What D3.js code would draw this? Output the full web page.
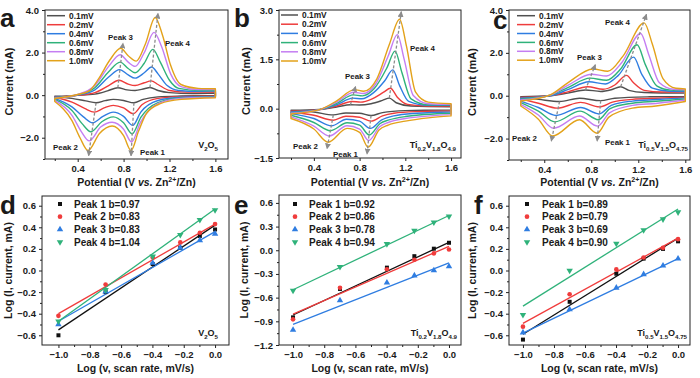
<!DOCTYPE html>
<html><head><meta charset="utf-8">
<script src="https://cdn.jsdelivr.net/npm/d3@7"></script>
<style>
body{margin:0;background:#fff}
svg{display:block}
text{font-family:"Liberation Sans",Arial,sans-serif;font-weight:bold;fill:#1a1a1a}
</style>
</head><body>
<svg id="chart" width="700" height="378"></svg>
<script>
// ---------------- DATA ----------------
const scanRates = ["0.1mV","0.2mV","0.4mV","0.6mV","0.8mV","1.0mV"];
const cvColors = ["#505050","#ee3c3c","#2f7de1","#2fb27a","#c47ef2","#e3a21a"];

// Panel a : V2O5  (potential V, current mA) — anodic (upper) and cathodic (lower) branches
const aUpper = [
 [[0.2,-0.05],[0.4,-0.01],[0.55,0.05],[0.66,0.2],[0.75,0.35],[0.83,0.25],[0.9,0.22],[0.98,0.3],[1.03,0.36],[1.1,0.22],[1.2,0.12],[1.4,0.08],[1.6,0.1]],
 [[0.2,-0.08],[0.4,-0.01],[0.55,0.12],[0.67,0.45],[0.76,0.7],[0.84,0.52],[0.9,0.45],[0.98,0.58],[1.04,0.67],[1.1,0.5],[1.2,0.22],[1.35,0.14],[1.6,0.15]],
 [[0.2,-0.1],[0.4,0.0],[0.55,0.25],[0.67,0.85],[0.765,1.2],[0.84,0.95],[0.9,0.8],[0.98,1.05],[1.045,1.32],[1.1,1.0],[1.18,0.45],[1.28,0.22],[1.45,0.18],[1.6,0.2]],
 [[0.2,-0.12],[0.4,0.02],[0.55,0.35],[0.67,1.1],[0.77,1.55],[0.84,1.25],[0.9,1.05],[0.98,1.5],[1.055,2.15],[1.12,1.55],[1.2,0.7],[1.28,0.32],[1.45,0.22],[1.6,0.22]],
 [[0.2,-0.14],[0.4,0.03],[0.55,0.45],[0.67,1.35],[0.77,1.9],[0.84,1.55],[0.9,1.35],[0.98,2.0],[1.065,2.95],[1.13,2.3],[1.21,1.0],[1.3,0.4],[1.45,0.26],[1.6,0.26]],
 [[0.2,-0.16],[0.4,0.03],[0.5,0.2],[0.58,0.75],[0.68,1.65],[0.775,2.2],[0.84,1.85],[0.91,1.6],[0.99,2.4],[1.075,3.65],[1.14,2.8],[1.21,1.4],[1.3,0.5],[1.45,0.32],[1.6,0.3]]
];
const aLower = [
 [[0.2,-0.05],[0.35,-0.15],[0.47,-0.27],[0.56,-0.36],[0.64,-0.26],[0.71,-0.2],[0.8,-0.25],[0.89,-0.36],[0.97,-0.2],[1.1,-0.08],[1.3,-0.04],[1.6,-0.02]],
 [[0.2,-0.1],[0.35,-0.33],[0.46,-0.62],[0.545,-0.8],[0.63,-0.6],[0.71,-0.48],[0.8,-0.6],[0.885,-0.87],[0.96,-0.45],[1.1,-0.15],[1.3,-0.07],[1.6,-0.04]],
 [[0.2,-0.15],[0.35,-0.55],[0.45,-1.02],[0.53,-1.3],[0.62,-1.0],[0.71,-0.8],[0.8,-1.0],[0.88,-1.42],[0.95,-0.8],[1.1,-0.25],[1.3,-0.1],[1.6,-0.06]],
 [[0.2,-0.2],[0.35,-0.72],[0.44,-1.35],[0.515,-1.72],[0.61,-1.25],[0.71,-1.02],[0.8,-1.3],[0.875,-1.82],[0.95,-1.05],[1.1,-0.35],[1.3,-0.13],[1.6,-0.08]],
 [[0.2,-0.25],[0.35,-0.95],[0.43,-1.7],[0.5,-2.15],[0.6,-1.5],[0.7,-1.27],[0.8,-1.6],[0.87,-2.2],[0.945,-1.3],[1.1,-0.4],[1.3,-0.15],[1.6,-0.1]],
 [[0.2,-0.3],[0.35,-1.2],[0.42,-2.0],[0.49,-2.6],[0.59,-1.8],[0.7,-1.45],[0.8,-1.9],[0.865,-2.6],[0.93,-1.7],[1.0,-0.85],[1.12,-0.4],[1.3,-0.2],[1.6,-0.12]]
];
const aArrows = [[[0.75,0.35],[0.795,2.45]],[[1.03,0.36],[1.1,3.85]],[[0.89,-0.36],[0.865,-2.85]],[[0.56,-0.36],[0.495,-2.85]]];

// Panel b : Ti0.2V1.8O4.9
const bUpper = [
 [[0.2,-0.05],[0.45,-0.02],[0.6,0.05],[0.72,0.12],[0.8,0.11],[0.9,0.15],[1.0,0.25],[1.06,0.32],[1.12,0.18],[1.25,0.08],[1.6,0.06]],
 [[0.2,-0.08],[0.45,-0.03],[0.6,0.08],[0.73,0.22],[0.81,0.2],[0.91,0.3],[1.01,0.5],[1.07,0.62],[1.13,0.35],[1.22,0.13],[1.4,0.08],[1.6,0.08]],
 [[0.2,-0.1],[0.45,-0.03],[0.6,0.12],[0.74,0.32],[0.82,0.3],[0.92,0.48],[1.02,0.85],[1.09,1.18],[1.15,0.7],[1.23,0.22],[1.4,0.1],[1.6,0.1]],
 [[0.2,-0.12],[0.45,-0.03],[0.6,0.16],[0.745,0.42],[0.825,0.39],[0.93,0.62],[1.04,1.25],[1.11,1.75],[1.17,1.1],[1.25,0.3],[1.4,0.12],[1.6,0.12]],
 [[0.2,-0.14],[0.45,-0.03],[0.6,0.2],[0.75,0.5],[0.83,0.46],[0.94,0.75],[1.05,1.6],[1.13,2.25],[1.19,1.5],[1.27,0.4],[1.4,0.15],[1.6,0.13]],
 [[0.2,-0.16],[0.45,-0.03],[0.6,0.24],[0.755,0.58],[0.835,0.53],[0.95,0.9],[1.06,1.95],[1.15,2.72],[1.21,1.9],[1.29,0.5],[1.4,0.2],[1.6,0.15]]
];
const bLower = [
 [[0.2,-0.05],[0.4,-0.1],[0.57,-0.19],[0.68,-0.13],[0.8,-0.14],[0.9,-0.21],[1.0,-0.12],[1.2,-0.06],[1.6,-0.04]],
 [[0.2,-0.1],[0.4,-0.2],[0.57,-0.35],[0.68,-0.23],[0.8,-0.26],[0.9,-0.38],[1.0,-0.22],[1.1,-0.14],[1.3,-0.09],[1.6,-0.07]],
 [[0.2,-0.15],[0.4,-0.3],[0.555,-0.52],[0.685,-0.32],[0.8,-0.38],[0.895,-0.6],[0.99,-0.35],[1.1,-0.22],[1.3,-0.14],[1.6,-0.1]],
 [[0.2,-0.2],[0.4,-0.42],[0.545,-0.67],[0.69,-0.43],[0.8,-0.5],[0.885,-0.8],[0.98,-0.45],[1.05,-0.35],[1.2,-0.24],[1.6,-0.14]],
 [[0.2,-0.25],[0.4,-0.53],[0.535,-0.83],[0.69,-0.52],[0.8,-0.62],[0.88,-0.97],[0.975,-0.55],[1.05,-0.42],[1.2,-0.3],[1.6,-0.18]],
 [[0.2,-0.3],[0.4,-0.62],[0.525,-1.02],[0.69,-0.6],[0.8,-0.72],[0.875,-1.17],[0.97,-0.65],[1.05,-0.5],[1.2,-0.38],[1.4,-0.28],[1.6,-0.22]]
];
const bArrows = [[[0.72,0.12],[0.765,0.68]],[[1.06,0.32],[1.165,2.95]],[[0.9,-0.21],[0.865,-1.38]],[[0.57,-0.19],[0.515,-1.22]]];

// Panel c : Ti0.5V1.5O4.75
const cUpper = [
 [[0.2,-0.05],[0.45,0.0],[0.6,0.12],[0.75,0.27],[0.88,0.2],[0.97,0.28],[1.05,0.42],[1.12,0.25],[1.25,0.15],[1.6,0.12]],
 [[0.2,-0.08],[0.45,0.0],[0.6,0.18],[0.77,0.42],[0.9,0.3],[1.0,0.5],[1.1,0.95],[1.16,0.6],[1.25,0.25],[1.4,0.17],[1.6,0.17]],
 [[0.2,-0.12],[0.45,0.0],[0.6,0.28],[0.78,0.65],[0.92,0.55],[1.03,0.95],[1.16,1.8],[1.23,1.0],[1.32,0.35],[1.45,0.22],[1.6,0.2]],
 [[0.2,-0.16],[0.45,0.02],[0.6,0.38],[0.79,0.82],[0.93,0.72],[1.05,1.25],[1.19,2.38],[1.26,1.45],[1.36,0.45],[1.48,0.26],[1.6,0.24]],
 [[0.2,-0.2],[0.45,0.03],[0.6,0.48],[0.8,1.0],[0.93,0.92],[1.06,1.55],[1.22,2.9],[1.29,1.9],[1.38,0.6],[1.5,0.3],[1.6,0.28]],
 [[0.2,-0.25],[0.45,0.04],[0.6,0.6],[0.815,1.25],[0.94,1.14],[1.07,1.85],[1.25,3.4],[1.32,2.4],[1.41,0.8],[1.52,0.35],[1.6,0.32]]
];
const cLower = [
 [[0.2,-0.08],[0.35,-0.17],[0.53,-0.27],[0.7,-0.12],[0.88,-0.23],[1.0,-0.12],[1.3,-0.05],[1.6,-0.03]],
 [[0.2,-0.15],[0.35,-0.35],[0.51,-0.58],[0.71,-0.31],[0.87,-0.52],[0.98,-0.3],[1.15,-0.17],[1.35,-0.12],[1.6,-0.07]],
 [[0.2,-0.25],[0.35,-0.55],[0.5,-0.92],[0.71,-0.55],[0.865,-0.85],[0.97,-0.45],[1.15,-0.25],[1.35,-0.18],[1.6,-0.1]],
 [[0.2,-0.32],[0.35,-0.72],[0.49,-1.22],[0.705,-0.72],[0.86,-1.12],[0.96,-0.6],[1.15,-0.35],[1.35,-0.26],[1.6,-0.15]],
 [[0.2,-0.4],[0.35,-0.9],[0.48,-1.52],[0.7,-0.95],[0.855,-1.42],[0.955,-0.8],[1.15,-0.45],[1.35,-0.36],[1.6,-0.2]],
 [[0.2,-0.48],[0.35,-1.1],[0.47,-1.88],[0.7,-1.12],[0.85,-1.75],[0.95,-1.0],[1.15,-0.58],[1.35,-0.48],[1.6,-0.27]]
];
const cArrows = [[[0.75,0.27],[0.835,1.45]],[[1.05,0.42],[1.27,3.8]],[[0.88,-0.23],[0.85,-2.12]],[[0.53,-0.27],[0.46,-2.12]]];

// Bottom panels: log(scan rate) vs log(peak current)
const logScanRate = [-1.0, -0.699, -0.398, -0.222, -0.097, 0.0];
const peakNames = ["Peak 1","Peak 2","Peak 3","Peak 4"];
const peakColors = ["#111111","#f03c3c","#2f7de1","#2fb27a"];

const dLogI = [
 [-0.60, -0.20, 0.06, 0.21, 0.32, 0.38],
 [-0.42, -0.13, 0.12, 0.26, 0.35, 0.43],
 [-0.50, -0.195, 0.07, 0.21, 0.28, 0.34],
 [-0.47, -0.18, 0.13, 0.33, 0.47, 0.56]
];
const dSlope = [0.97, 0.83, 0.83, 1.04];
const dIntercept = [0.42, 0.43, 0.36, 0.57];

const eLogI = [
 [-0.85, -0.49, -0.22, -0.075, 0.02, 0.095],
 [-0.875, -0.475, -0.24, -0.12, -0.04, 0.01],
 [-1.01, -0.635, -0.41, -0.32, -0.255, -0.205],
 [-0.51, -0.21, 0.08, 0.25, 0.355, 0.43]
];
const eSlope = [0.92, 0.86, 0.78, 0.94];
const eIntercept = [0.10, 0.05, -0.16, 0.44];

const fLogI = [
 [-0.64, -0.29, -0.03, 0.11, 0.20, 0.27],
 [-0.52, -0.22, 0.01, 0.12, 0.21, 0.29],
 [-0.575, -0.36, -0.16, -0.035, 0.045, 0.11],
 [-0.41, 0.0, 0.25, 0.375, 0.475, 0.54]
];
const fSlope = [0.89, 0.79, 0.69, 0.90];
const fIntercept = [0.30, 0.30, 0.11, 0.57];

// ---------------- DRAWING ----------------
const svg = d3.select("#chart");
const fmt = d3.format(".1f");
const defs = svg.append("defs");
defs.append("marker").attr("id","ah").attr("viewBox","0 0 10 10")
  .attr("refX",9).attr("refY",5).attr("markerWidth",6).attr("markerHeight",6)
  .attr("markerUnits","userSpaceOnUse").attr("orient","auto")
  .append("path").attr("d","M0,0 L10,5 L0,10 Z").attr("fill","#8c8c8c");

function rich(sel, parts, size){
  let shift = 0;
  parts.forEach(p => {
    const target = p.sub ? size*0.3 : (p.sup ? -size*0.4 : 0);
    const ts = sel.append("tspan").attr("dy", target - shift).text(p.t);
    shift = target;
    if (p.sub || p.sup) ts.attr("font-size", size*0.68);
    if (p.it) ts.attr("font-style","italic");
  });
}

function frameAxes(g, x, y, b, xt, xm, yt, ym, yfmt){
  const style = s => { s.attr("font-family",null).attr("font-size",null);
    s.select(".domain").remove();
    s.selectAll("line").attr("stroke","#222");
    s.selectAll("text").attr("font-size",9.5).attr("fill","#1a1a1a"); };
  g.append("g").attr("transform",`translate(0,${b.bottom})`)
    .call(d3.axisBottom(x).tickValues(xt).tickFormat(fmt).tickSize(3).tickPadding(3)).call(style);
  g.append("g").attr("transform",`translate(0,${b.bottom})`)
    .call(d3.axisBottom(x).tickValues(xm).tickFormat("").tickSize(2)).call(style);
  g.append("g").attr("transform",`translate(${b.left},0)`)
    .call(d3.axisLeft(y).tickValues(yt).tickFormat(yfmt||fmt).tickSize(3).tickPadding(3)).call(style);
  g.append("g").attr("transform",`translate(${b.left},0)`)
    .call(d3.axisLeft(y).tickValues(ym).tickFormat("").tickSize(2)).call(style);
  g.append("rect").attr("x",b.left).attr("y",b.top).attr("width",b.right-b.left).attr("height",b.bottom-b.top)
    .attr("fill","none").attr("stroke","#222").attr("stroke-width",1);
}

function drawCV(cfg){
  const g = svg.append("g");
  const x = d3.scaleLinear().domain(cfg.xDomain).range([cfg.left,cfg.right]);
  const y = d3.scaleLinear().domain(cfg.yDomain).range([cfg.bottom,cfg.top]);
  const cid = "clip"+cfg.letter;
  defs.append("clipPath").attr("id",cid).append("rect")
    .attr("x",cfg.left).attr("y",cfg.top).attr("width",cfg.right-cfg.left).attr("height",cfg.bottom-cfg.top);
  const line = d3.line().x(d=>x(d[0])).y(d=>y(d[1])).curve(d3.curveMonotoneX);
  const cg = g.append("g").attr("clip-path",`url(#${cid})`);
  cfg.upper.forEach((up,i) => {
    const lo = cfg.lower[i].slice().reverse();
    const dpath = line(up) + line(lo).replace(/^M/,"L") + "Z";
    cg.append("path").attr("d",dpath).attr("fill","none").attr("stroke",cvColors[i])
      .attr("stroke-width",1.4).attr("stroke-linejoin","round");
  });
  cfg.arrows.forEach(a => {
    cg.append("line").attr("x1",x(a[0][0])).attr("y1",y(a[0][1])).attr("x2",x(a[1][0])).attr("y2",y(a[1][1]))
      .attr("stroke","#8c8c8c").attr("stroke-width",1.3).attr("stroke-dasharray","3,2").attr("marker-end","url(#ah)");
  });
  frameAxes(g, x, y, cfg, [0.4,0.8,1.2,1.6], [0.2,0.6,1.0,1.4], cfg.yTicks, cfg.yMinor);
  // legend
  scanRates.forEach((s,i) => {
    const yy = cfg.legY + i*cfg.legStep;
    g.append("line").attr("x1",cfg.legX1).attr("x2",cfg.legX2).attr("y1",yy).attr("y2",yy)
      .attr("stroke",cvColors[i]).attr("stroke-width",1.5);
    g.append("text").attr("x",cfg.legX2+4).attr("y",yy+3.1).attr("font-size",8.4).text(s);
  });
  cfg.peakLabels.forEach(p => g.append("text").attr("x",p[1]).attr("y",p[2]).attr("font-size",7.9).text(p[0]));
  const st = g.append("text").attr("x",cfg.sampleX).attr("y",cfg.sampleY).attr("text-anchor","end").attr("font-size",9);
  rich(st, cfg.sample, 9);
  // titles
  const xt = g.append("text").attr("x",(cfg.left+cfg.right)/2).attr("y",186).attr("text-anchor","middle").attr("font-size",10.5);
  rich(xt, [{t:"Potential (V "},{t:"vs.",it:true},{t:" Zn"},{t:"2+",sup:true},{t:"/Zn)"}], 10.5);
  g.append("text").attr("transform",`translate(${cfg.ylabX},${(cfg.top+cfg.bottom)/2-3}) rotate(-90)`)
    .attr("text-anchor","middle").attr("font-size",11).text("Current (mA)");
  g.append("text").attr("x",cfg.letterX).attr("y",cfg.letterY||27).attr("font-size",26).text(cfg.letter);
}

function drawLog(cfg){
  const g = svg.append("g");
  const x = d3.scaleLinear().domain(cfg.xDomain).range([cfg.left,cfg.right]);
  const y = d3.scaleLinear().domain(cfg.yDomain).range([cfg.bottom,cfg.top]);
  frameAxes(g, x, y, cfg, [-1.0,-0.8,-0.6,-0.4,-0.2,0.0], [-0.9,-0.7,-0.5,-0.3,-0.1], cfg.yTicks, cfg.yMinor);
  const symbols = [d3.symbolSquare, d3.symbolCircle, d3.symbolTriangle, d3.symbolTriangle];
  const sizes = [16, 17, 18, 18];
  cfg.values.forEach((vals,k) => {
    const fit = [-1.0, 0.0];
    g.append("line").attr("x1",x(fit[0])).attr("y1",y(cfg.intercept[k]+cfg.slope[k]*fit[0]))
      .attr("x2",x(fit[1])).attr("y2",y(cfg.intercept[k]+cfg.slope[k]*fit[1]))
      .attr("stroke",peakColors[k]).attr("stroke-width",1.3);
  });
  cfg.values.forEach((vals,k) => {
    vals.forEach((v,j) => {
      g.append("path").attr("d",d3.symbol(symbols[k],sizes[k])())
        .attr("transform",`translate(${x(logScanRate[j])},${y(v)})${k===3?" rotate(180)":""}`)
        .attr("fill",peakColors[k]);
    });
  });
  peakNames.forEach((n,k) => {
    const yy = cfg.legY + k*12.7;
    g.append("path").attr("d",d3.symbol(symbols[k],sizes[k])())
      .attr("transform",`translate(${cfg.legMX},${yy})${k===3?" rotate(180)":""}`).attr("fill",peakColors[k]);
    g.append("text").attr("x",cfg.legTX).attr("y",yy+3.6).attr("font-size",10)
      .text(`${n} b=${cfg.slope[k].toFixed(2)}`);
  });
  const st = g.append("text").attr("x",cfg.sampleX).attr("y",336).attr("text-anchor","end").attr("font-size",9);
  rich(st, cfg.sample, 9);
  g.append("text").attr("x",(cfg.left+cfg.right)/2).attr("y",372).attr("text-anchor","middle").attr("font-size",10.5)
    .text("Log (v, scan rate, mV/s)");
  g.append("text").attr("transform",`translate(${cfg.ylabX},${(cfg.top+cfg.bottom)/2}) rotate(-90)`)
    .attr("text-anchor","middle").attr("font-size",10.5).text("Log (I, current, mA)");
  g.append("text").attr("x",cfg.letterX).attr("y",214).attr("font-size",26).text(cfg.letter);
}

const sV2O5 = [{t:"V"},{t:"2",sub:true},{t:"O"},{t:"5",sub:true}];
const sTi02 = [{t:"Ti"},{t:"0.2",sub:true},{t:"V"},{t:"1.8",sub:true},{t:"O"},{t:"4.9",sub:true}];
const sTi05 = [{t:"Ti"},{t:"0.5",sub:true},{t:"V"},{t:"1.5",sub:true},{t:"O"},{t:"4.75",sub:true}];

drawCV({letter:"a", letterX:0, left:45, right:228, top:10, bottom:159, xDomain:[0.115,1.71], yDomain:[-3,4],
  yTicks:[-2,0,2,4], yMinor:[-3,-1,1,3], upper:aUpper, lower:aLower, arrows:aArrows,
  legX1:47, legX2:65, legY:15.7, legStep:9, ylabX:13, sampleX:218, sampleY:148, sample:sV2O5,
  peakLabels:[["Peak 3",108,40],["Peak 4",165,46],["Peak 2",53,150],["Peak 1",140,155]]});
drawCV({letter:"b", letterX:234, left:279, right:461, top:10, bottom:158, xDomain:[0.095,1.687], yDomain:[-1.5,3],
  yTicks:[-1.5,0,1.5,3], yMinor:[-0.75,0.75,2.25], upper:bUpper, lower:bLower, arrows:bArrows,
  legX1:281, legX2:298, legY:15, legStep:9.2, ylabX:250, sampleX:456, sampleY:148, sample:sTi02,
  peakLabels:[["Peak 4",410,51],["Peak 3",345,79],["Peak 2",293,149],["Peak 1",333,157]]});
drawCV({letter:"c", letterX:493, letterY:29, left:509, right:690, top:10, bottom:160, xDomain:[0.1,1.64], yDomain:[-3,4],
  yTicks:[-2,0,2,4], yMinor:[-3,-1,1,3], upper:cUpper, lower:cLower, arrows:cArrows,
  legX1:517, legX2:535, legY:15.7, legStep:8.9, ylabX:476, sampleX:688, sampleY:148, sample:sTi05,
  peakLabels:[["Peak 4",605,25],["Peak 3",577,60],["Peak 2",512,141],["Peak 1",605,145]]});

drawLog({letter:"d", letterX:0, left:42, right:229, top:196, bottom:345, xDomain:[-1.105,0.089], yDomain:[-0.69,0.69],
  yTicks:[-0.6,-0.4,-0.2,0,0.2,0.4,0.6], yMinor:[-0.5,-0.3,-0.1,0.1,0.3,0.5],
  values:dLogI, slope:dSlope, intercept:dIntercept, legY:204, legMX:60, legTX:74, sampleX:218, sample:sV2O5, ylabX:12});
drawLog({letter:"e", letterX:234, left:279, right:461, top:195, bottom:345, xDomain:[-1.09,0.077], yDomain:[-1.2,0.7],
  yTicks:[-1.2,-0.9,-0.6,-0.3,0,0.3,0.6], yMinor:[-1.05,-0.75,-0.45,-0.15,0.15,0.45],
  values:eLogI, slope:eSlope, intercept:eIntercept, legY:204, legMX:295, legTX:309, sampleX:457, sample:sTi02, ylabX:248});
drawLog({letter:"f", letterX:474, left:509, right:690, top:196, bottom:345, xDomain:[-1.09,0.077], yDomain:[-0.69,0.69],
  yTicks:[-0.6,-0.4,-0.2,0,0.2,0.4,0.6], yMinor:[-0.5,-0.3,-0.1,0.1,0.3,0.5],
  values:fLogI, slope:fSlope, intercept:fIntercept, legY:204, legMX:527, legTX:542, sampleX:687, sample:sTi05, ylabX:476});
</script>
</body></html>
